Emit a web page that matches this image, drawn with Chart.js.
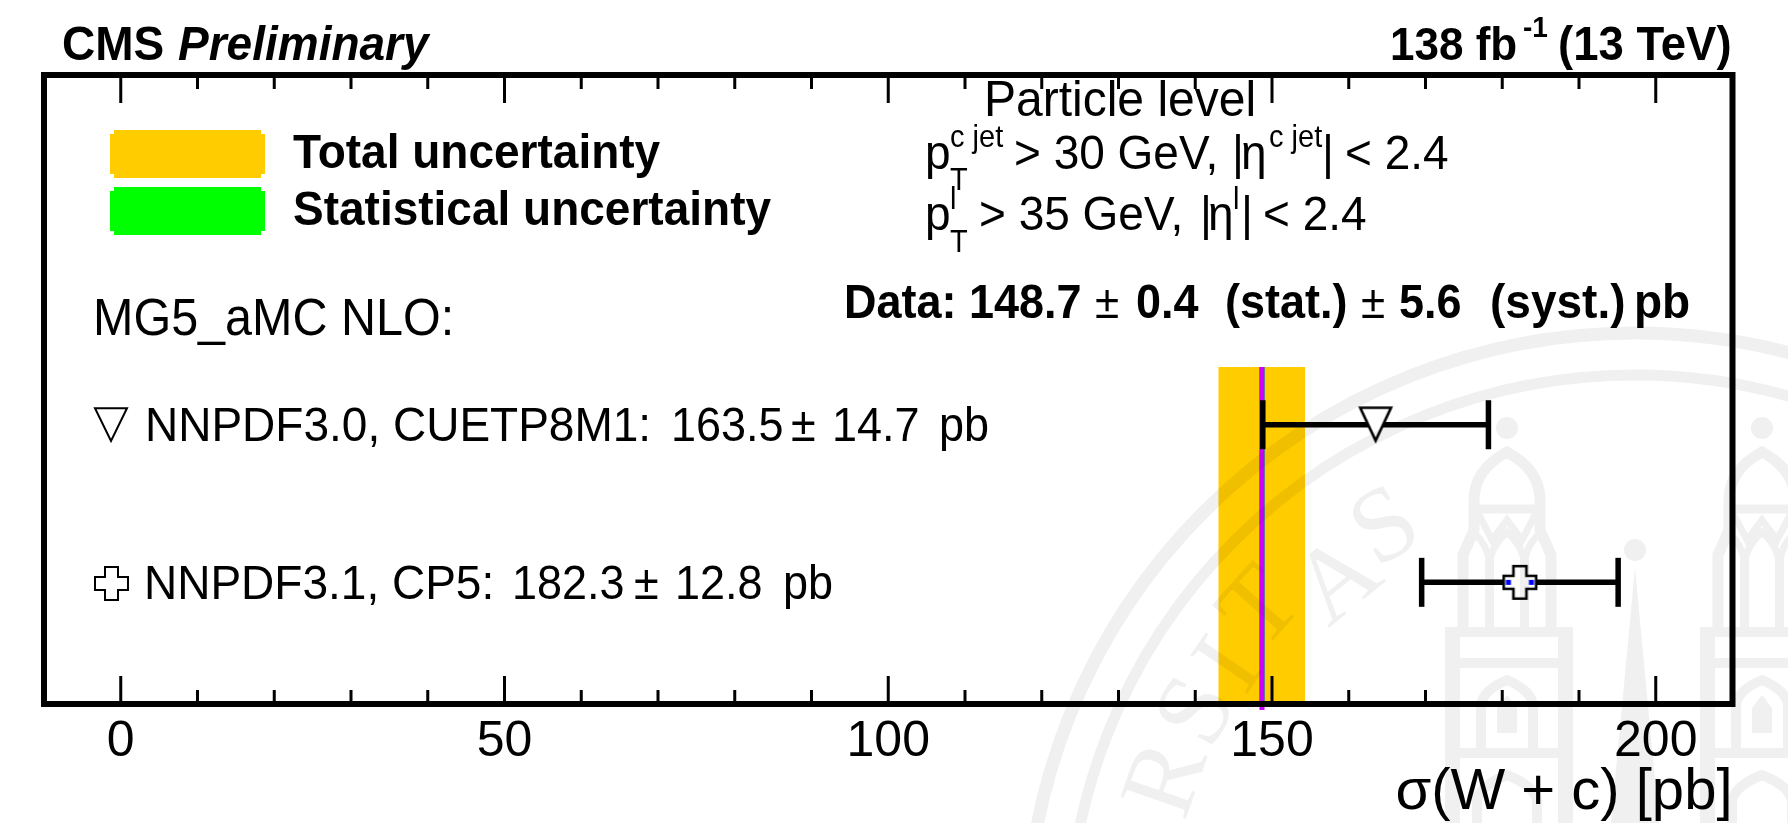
<!DOCTYPE html>
<html><head><meta charset="utf-8">
<style>html,body{margin:0;padding:0;background:#fff}canvas{display:block}</style>
<script src="https://cdn.jsdelivr.net/npm/chart.js@4/dist/chart.umd.min.js"></script>
</head><body><canvas id="c" width="1788" height="823"></canvas>
<script>
// ---- data ----
const tickLabels = [0, 50, 100, 150, 200];
const xRange = [-10, 210];
const dataCentral = [148.7];
const dataTotalBand = [143.0, 154.3];
const dataStatBand = [148.3, 149.1];
const modelRows = [2, 1];
const modelCentral = [163.5, 182.3];
const modelError = [14.7, 12.8];
const yRange = [0.228, 4.219];
const bandTop = 2.366;
const lineBottom = 0.19;
const axisTitle = 'σ(W + c) [pb]';

const SANS = '"Liberation Sans", Arial, sans-serif';
const BLK = '#000000';

function makeTriangle(w, h, lw) {
  const c = document.createElement('canvas'); c.width = w + 4; c.height = h + 4;
  const g = c.getContext('2d');
  g.beginPath(); g.moveTo(2 + lw, 2 + lw * .6); g.lineTo(2 + w - lw, 2 + lw * .6); g.lineTo(2 + w / 2, 2 + h - lw); g.closePath();
  g.fillStyle = '#fff'; g.fill(); g.lineWidth = lw; g.lineJoin = 'miter'; g.strokeStyle = BLK; g.stroke();
  return c;
}
function crossPath(g, o, s, a) {
  const p = (s - a) / 2;
  g.beginPath();
  g.moveTo(o + p, o); g.lineTo(o + p + a, o); g.lineTo(o + p + a, o + p); g.lineTo(o + s, o + p); g.lineTo(o + s, o + p + a);
  g.lineTo(o + p + a, o + p + a); g.lineTo(o + p + a, o + s); g.lineTo(o + p, o + s); g.lineTo(o + p, o + p + a);
  g.lineTo(o, o + p + a); g.lineTo(o, o + p); g.lineTo(o + p, o + p); g.closePath();
}
function makeCross(s, a, lw, blue) {
  const c = document.createElement('canvas'); c.width = s + 4; c.height = s + 4;
  const g = c.getContext('2d');
  crossPath(g, 2 + lw / 2, s - lw, a);
  g.fillStyle = '#fff'; g.fill(); g.lineWidth = lw; g.strokeStyle = BLK; g.stroke();
  if (blue) { g.fillStyle = '#0000ff'; const m = c.height / 2; g.fillRect(5.5, m - 2.5, 5, 5); g.fillRect(c.width - 10.5, m - 2.5, 5, 5); }
  return c;
}
const triMarker = makeTriangle(36, 37, 2.6);
const crossMarker = makeCross(35, 13, 2.6, true);
const triLegend = makeTriangle(36, 36, 2);
const crossLegend = makeCross(35, 13, 2, false);

function makeWatermark() {
  const c = document.createElement('canvas'); c.width = 1788; c.height = 823;
  const g = c.getContext('2d');
  const W = '#f0f0f0';
  g.fillStyle = '#fff'; g.fillRect(0, 0, 1788, 823);
  g.strokeStyle = W; g.fillStyle = W;
  const cx0 = 1635, cy0 = 942;
  g.lineWidth = 13;
  g.beginPath(); g.arc(cx0, cy0, 609, 0, Math.PI * 2); g.stroke();
  g.lineWidth = 11;
  g.beginPath(); g.arc(cx0, cy0, 567, 0, Math.PI * 2); g.stroke();
  const letters = [['R', 1170, 780], ['S', 1200, 713], ['I', 1232, 667], ['T', 1263, 610], ['A', 1340, 583], ['S', 1387, 530]];
  g.font = '105px "Liberation Serif", serif'; g.textAlign = 'center'; g.textBaseline = 'middle';
  letters.forEach(([t, x, y]) => {
    g.save(); g.translate(x, y); g.rotate(Math.atan2(y - cy0, x - cx0) + Math.PI / 2); g.fillText(t, 0, 0); g.restore();
  });
  function tower(x) {
    g.lineJoin = 'miter';
    g.beginPath(); g.arc(x, 428, 11, 0, Math.PI * 2); g.fill();
    g.lineWidth = 11;
    g.beginPath(); g.moveTo(x - 44, 627); g.lineTo(x - 44, 555); g.lineTo(x - 33, 530); g.lineTo(x - 33, 500);
    g.quadraticCurveTo(x - 33, 470, x, 452); g.quadraticCurveTo(x + 33, 470, x + 33, 500); g.lineTo(x + 33, 530); g.lineTo(x + 44, 555); g.lineTo(x + 44, 627); g.stroke();
    g.lineWidth = 9;
    g.beginPath(); g.moveTo(x - 33, 509); g.lineTo(x + 33, 509); g.stroke();
    g.lineWidth = 7;
    g.beginPath(); g.moveTo(x - 29, 513); g.lineTo(x - 15, 540); g.lineTo(x, 520); g.lineTo(x + 15, 540); g.lineTo(x + 29, 513); g.stroke();
    g.lineWidth = 9;
    [-17.5, 17.5].forEach(d => { g.beginPath(); g.moveTo(x + d, 627); g.lineTo(x + d, 560); g.stroke(); });
    g.lineWidth = 7;
    g.beginPath(); g.moveTo(x - 17.5, 562); g.quadraticCurveTo(x - 15, 545, x, 532); g.quadraticCurveTo(x + 15, 545, x + 17.5, 562); g.stroke();
    [-1, 1].forEach(s => { g.beginPath(); g.moveTo(x + s * 44, 562); g.quadraticCurveTo(x + s * 42, 545, x + s * 31, 535); g.quadraticCurveTo(x + s * 20, 545, x + s * 17.5, 562); g.stroke(); });
    g.fillRect(x - 62, 627, 128, 10);
    g.fillRect(x - 62, 627, 15, 196);
    g.fillRect(x + 51, 627, 15, 196);
    g.fillRect(x - 62, 658, 128, 10);
    g.fillRect(x - 62, 748, 128, 10);
    g.lineWidth = 10;
    g.beginPath(); g.moveTo(x - 26, 748); g.lineTo(x - 26, 705); g.quadraticCurveTo(x - 24, 690, x, 680); g.quadraticCurveTo(x + 24, 690, x + 26, 705); g.lineTo(x + 26, 748); g.stroke();
    g.beginPath(); g.moveTo(x - 10, 733); g.lineTo(x - 10, 708); g.lineTo(x, 695); g.lineTo(x + 10, 708); g.lineTo(x + 10, 733); g.closePath(); g.fill();
    g.beginPath(); g.moveTo(x - 30, 823); g.lineTo(x - 30, 800); g.quadraticCurveTo(x - 26, 785, x, 775); g.quadraticCurveTo(x + 26, 785, x + 30, 800); g.lineTo(x + 30, 823); g.stroke();
  }
  tower(1507); tower(1762);
  g.beginPath(); g.arc(1635, 550, 11, 0, Math.PI * 2); g.fill();
  g.beginPath(); g.moveTo(1635, 568); g.lineTo(1659, 823); g.lineTo(1611, 823); g.closePath(); g.fill();
  return c;
}

function text(ctx, str, x, y, font, align) {
  ctx.save();
  ctx.font = font; ctx.textAlign = align || 'left'; ctx.textBaseline = 'alphabetic'; ctx.fillStyle = BLK;
  ctx.translate(x, y); ctx.scale(1, 1.05);
  ctx.fillText(str, 0, 0);
  ctx.restore();
}
const B = s => 'bold ' + s + 'px ' + SANS;
const R = s => s + 'px ' + SANS;

const cmsPlugin = {
  id: 'cms',
  beforeDraw(chart) {
    const ctx = chart.ctx; ctx.save(); ctx.fillStyle = '#fff'; ctx.fillRect(0, 0, chart.width, chart.height); ctx.restore();
  },
  afterDraw(chart) {
    const ctx = chart.ctx, a = chart.chartArea, sx = chart.scales.x;
    ctx.save();
    // inward ticks taken from the library's x scale
    ctx.strokeStyle = BLK; ctx.lineWidth = 3;
    sx.ticks.forEach(t => {
      const p = sx.getPixelForValue(t.value), major = tickLabels.includes(t.value), len = major ? 28 : 14;
      ctx.beginPath(); ctx.moveTo(p, a.bottom); ctx.lineTo(p, a.bottom - len);
      ctx.moveTo(p, a.top); ctx.lineTo(p, a.top + len); ctx.stroke();
    });
    // frame
    ctx.lineWidth = 6; ctx.lineJoin = 'miter';
    ctx.strokeRect(a.left, a.top, a.right - a.left, a.bottom - a.top);
    // header
    text(ctx, 'CMS', 62, 60, B(46));
    text(ctx, 'Preliminary', 178, 60, 'italic ' + B(46));
    text(ctx, '138 fb', 1390, 60, B(44));
    text(ctx, '-1', 1523, 37, B(28));
    text(ctx, '(13 TeV)', 1558, 60, B(45.5));
    // legend boxes
    [['#ffcc00', 130, 'Total uncertainty', 168], ['#00ff00', 187, 'Statistical uncertainty', 225]].forEach(([col, y, lab, base]) => {
      const x0 = 110, x1 = 265, y1 = y + 48, n = 4;
      ctx.fillStyle = col; ctx.beginPath();
      ctx.moveTo(x0 + n, y); ctx.lineTo(x1 - n, y); ctx.lineTo(x1 - n, y + n); ctx.lineTo(x1, y + n); ctx.lineTo(x1, y1 - n); ctx.lineTo(x1 - n, y1 - n);
      ctx.lineTo(x1 - n, y1); ctx.lineTo(x0 + n, y1); ctx.lineTo(x0 + n, y1 - n); ctx.lineTo(x0, y1 - n); ctx.lineTo(x0, y + n); ctx.lineTo(x0 + n, y + n);
      ctx.closePath(); ctx.fill();
      text(ctx, lab, 293, base, B(46));
    });
    // selection text
    text(ctx, 'Particle level', 984, 116, R(48));
    text(ctx, 'p', 925, 168.5, R(46));
    text(ctx, 'c jet', 950, 147, R(29));
    text(ctx, 'T', 950, 190, R(29));
    text(ctx, '> 30 GeV,', 1014, 168.5, R(46));
    text(ctx, '|', 1232, 168.5, R(46));
    text(ctx, 'η', 1241, 168.5, R(46));
    text(ctx, 'c jet', 1269, 147, R(29));
    text(ctx, '|', 1322, 168.5, R(46));
    text(ctx, '< 2.4', 1345, 168.5, R(46));
    text(ctx, 'p', 925, 230, R(46));
    text(ctx, 'l', 950, 209, R(29));
    text(ctx, 'T', 950, 252, R(29));
    text(ctx, '> 35 GeV,', 979, 230, R(46));
    text(ctx, '|', 1200, 230, R(46));
    text(ctx, 'η', 1208, 230, R(46));
    text(ctx, 'l', 1233, 209, R(29));
    text(ctx, '|', 1241, 230, R(46));
    text(ctx, '< 2.4', 1263, 230, R(46));
    // data line
    text(ctx, 'Data: 148.7', 844, 318, B(45));
    text(ctx, '±', 1095, 318, R(44));
    text(ctx, '0.4', 1136, 318, B(45));
    text(ctx, '(stat.)', 1225, 318, B(45));
    text(ctx, '±', 1361, 318, R(44));
    text(ctx, '5.6', 1399, 318, B(45));
    text(ctx, '(syst.)', 1490, 318, B(46));
    text(ctx, 'pb', 1634, 318, B(46));
    // model labels
    text(ctx, 'MG5_aMC NLO:', 93, 335, R(48.5));
    ctx.drawImage(triLegend, 91, 405);
    text(ctx, 'NNPDF3.0, CUETP8M1:', 145, 441, R(46));
    text(ctx, '163.5', 671, 441, R(45));
    text(ctx, '±', 791, 441, R(45));
    text(ctx, '14.7', 832, 441, R(45));
    text(ctx, 'pb', 939, 441, R(45));
    ctx.drawImage(crossLegend, 92, 564);
    text(ctx, 'NNPDF3.1, CP5:', 144, 599, R(46));
    text(ctx, '182.3', 512, 599, R(45));
    text(ctx, '±', 634, 599, R(45));
    text(ctx, '12.8', 675, 599, R(45));
    text(ctx, 'pb', 783, 599, R(45));
    // faint seal seen through the whole picture
    ctx.globalCompositeOperation = 'multiply';
    ctx.drawImage(makeWatermark(), 0, 0);
    ctx.restore();
  }
};

const datasets = [
  { label: 'Total uncertainty', order: 5, showLine: true, borderWidth: 0, pointRadius: 0, backgroundColor: '#ffcc00',
    fill: { value: yRange[0] }, data: dataTotalBand.map(x => ({ x, y: bandTop })) },
  { label: 'Statistical uncertainty', order: 4, showLine: true, borderWidth: 0, pointRadius: 0, backgroundColor: '#00ff00',
    fill: { value: yRange[0] }, data: dataStatBand.map(x => ({ x, y: bandTop })) },
  { label: 'Data', order: 3, showLine: true, borderColor: '#cc00ff', borderWidth: 5, pointRadius: 0, clip: false,
    data: [{ x: dataCentral[0], y: lineBottom }, { x: dataCentral[0], y: bandTop }] }
];
modelRows.forEach((row, i) => {
  datasets.push({
    label: 'Range ' + i, order: 1, showLine: true, borderColor: BLK, borderWidth: 5.5, clip: false,
    pointStyle: 'line', rotation: 90, pointRadius: 24.5, pointBorderWidth: 5.5, pointBorderColor: BLK,
    data: [{ x: modelCentral[i] - modelError[i], y: row }, { x: modelCentral[i] + modelError[i], y: row }]
  });
  datasets.push({
    label: 'Model ' + i, order: 0, showLine: false, pointStyle: i === 0 ? triMarker : crossMarker, pointRadius: 18,
    data: [{ x: modelCentral[i], y: row }]
  });
});

new Chart(document.getElementById('c'), {
  type: 'scatter',
  data: { datasets },
  plugins: [cmsPlugin],
  options: {
    responsive: false, animation: false, devicePixelRatio: 1,
    events: [],
    layout: { padding: { left: 44, right: 55.5, top: 75, bottom: 0 } },
    plugins: { legend: { display: false }, tooltip: { enabled: false }, title: { display: false } },
    scales: {
      x: {
        type: 'linear', min: xRange[0], max: xRange[1],
        grid: { display: false, drawTicks: false }, border: { display: false },
        afterFit(s) { s.height = 119; },
        afterBuildTicks(s) { s.ticks = s.ticks.filter(t => t.value >= 0 && t.value <= 200); },
        ticks: {
          stepSize: 10, autoSkip: false, maxRotation: 0, color: BLK, padding: 8,
          font: { family: SANS, size: 50 },
          callback: v => tickLabels.includes(v) ? String(v) : ''
        },
        title: { display: true, text: axisTitle, align: 'end', color: BLK, padding: { top: 0, bottom: 1 },
          font: { family: SANS, size: 58, lineHeight: 1 } }
      },
      y: { type: 'linear', display: false, min: yRange[0], max: yRange[1] }
    }
  }
});
</script></body></html>
